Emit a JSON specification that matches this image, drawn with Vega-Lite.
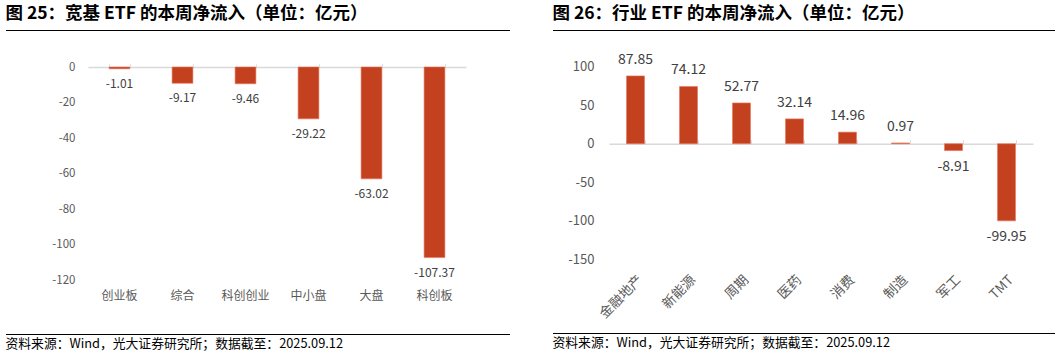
{
  "$schema": "https://vega.github.io/schema/vega-lite/v6.json",
  "padding": {"left": 5, "top": 5, "right": 0, "bottom": 0},
  "config": {
    "font": "Noto Sans CJK SC",
    "view": {"stroke": null},
    "locale": {"number": {"decimal": ".", "thousands": ",", "grouping": [3], "currency": ["", ""], "minus": "-"}}
  },
  "datasets": {
    "broad": [
      {"name": "创业板", "value": -1.01},
      {"name": "综合", "value": -9.17},
      {"name": "科创创业", "value": -9.46},
      {"name": "中小盘", "value": -29.22},
      {"name": "大盘", "value": -63.02},
      {"name": "科创板", "value": -107.37}
    ],
    "industry": [
      {"name": "金融地产", "value": 87.85},
      {"name": "新能源", "value": 74.12},
      {"name": "周期", "value": 52.77},
      {"name": "医药", "value": 32.14},
      {"name": "消费", "value": 14.96},
      {"name": "制造", "value": 0.97},
      {"name": "军工", "value": -8.91},
      {"name": "TMT", "value": -99.95}
    ],
    "one": [{"k": 1}]
  },
  "spacing": 42,
  "hconcat": [
    {
      "spacing": 30,
      "vconcat": [
        {
          "width": 504, "height": 1,
          "view": {"fill": "#000000", "stroke": null},
          "title": {"text": "图 25：宽基 ETF 的本周净流入（单位：亿元）", "anchor": "start", "fontSize": 17.5, "fontWeight": "bold", "color": "#000000", "offset": 7},
          "data": {"name": "one"},
          "mark": {"type": "rule", "opacity": 0},
          "encoding": {}
        },
        {
          "spacing": 32,
          "vconcat": [
            {
              "spacing": 0,
              "hconcat": [
                {
                  "width": 1, "height": 1,
                  "data": {"name": "one"},
                  "mark": {"type": "rule", "opacity": 0},
                  "encoding": {}
                },
                {
                  "width": 378, "height": 213,
                  "data": {"name": "broad"},
                  "layer": [
                    {
                      "mark": {"type": "bar", "color": "#C4411F", "stroke": "#E8765C", "strokeWidth": 0.6},
                      "encoding": {
                        "x": {"field": "name", "type": "nominal", "sort": null,
                          "scale": {"paddingInner": 0.67, "paddingOuter": 0.335},
                          "axis": {"orient": "bottom", "title": null, "domain": false, "ticks": false, "labelAngle": 0, "labelPadding": 10, "labelFontSize": 12, "labelColor": "#595959"}},
                        "y": {"field": "value", "type": "quantitative",
                          "scale": {"domain": [-120, 0], "nice": false},
                          "axis": {"title": null, "values": [-120, -100, -80, -60, -40, -20, 0], "labelOverlap": false, "domain": false, "ticks": false, "grid": false, "labelFontSize": 11.5, "labelColor": "#595959", "labelPadding": 13, "minExtent": 81}}
                      }
                    },
                    {
                      "mark": {"type": "text", "dy": 15, "baseline": "middle", "fontSize": 12, "color": "#404040"},
                      "encoding": {
                        "x": {"field": "name", "type": "nominal", "sort": null,
                          "axis": {"orient": "top", "title": null, "labels": false, "domainColor": "#D9D9D9", "domainWidth": 1.5, "tickColor": "#D9D9D9", "tickSize": 3, "tickBand": "extent"}},
                        "y": {"field": "value", "type": "quantitative",
                          "axis": {"title": null, "values": [-120, -100, -80, -60, -40, -20, 0], "labelOverlap": false, "domain": false, "ticks": false, "grid": false, "labelFontSize": 11.5, "labelColor": "#595959", "labelPadding": 13, "minExtent": 81}},
                        "text": {"field": "value", "type": "quantitative", "format": ".2f"}
                      }
                    }
                  ],
                  "resolve": {"axis": {"x": "independent"}}
                }
              ]
            },
            {
              "width": 504, "height": 1,
              "view": {"fill": "#000000", "stroke": null},
              "title": {"text": "资料来源：Wind，光大证券研究所；数据截至：2025.09.12", "orient": "bottom", "anchor": "start", "fontSize": 12.8, "fontWeight": "normal", "color": "#000000", "offset": 3},
              "data": {"name": "one"},
              "mark": {"type": "rule", "opacity": 0},
              "encoding": {}
            }
          ]
        }
      ]
    },
    {
      "spacing": 21.5,
      "vconcat": [
        {
          "width": 502, "height": 1,
          "view": {"fill": "#000000", "stroke": null},
          "title": {"text": "图 26：行业 ETF 的本周净流入（单位：亿元）", "anchor": "start", "fontSize": 17.5, "fontWeight": "bold", "color": "#000000", "offset": 7},
          "data": {"name": "one"},
          "mark": {"type": "rule", "opacity": 0},
          "encoding": {}
        },
        {
          "spacing": 11.5,
          "vconcat": [
            {
              "spacing": 0,
              "hconcat": [
                {
                  "width": 1, "height": 1,
                  "data": {"name": "one"},
                  "mark": {"type": "rule", "opacity": 0},
                  "encoding": {}
                },
                {
                  "width": 424, "height": 193,
                  "data": {"name": "industry"},
                  "layer": [
                    {
                      "mark": {"type": "bar", "color": "#C4411F", "stroke": "#E8765C", "strokeWidth": 0.6},
                      "encoding": {
                        "x": {"field": "name", "type": "nominal", "sort": null,
                          "scale": {"paddingInner": 0.66, "paddingOuter": 0.33},
                          "axis": {"orient": "bottom", "title": null, "domain": false, "ticks": false, "labelAngle": -45, "labelPadding": 13, "labelFontSize": 13.5, "labelColor": "#595959"}},
                        "y": {"field": "value", "type": "quantitative",
                          "scale": {"domain": [-150, 100], "nice": false},
                          "axis": {"title": null, "values": [-150, -100, -50, 0, 50, 100], "labelOverlap": false, "domain": false, "ticks": false, "grid": false, "labelFontSize": 13, "labelColor": "#595959", "labelPadding": 15, "minExtent": 55}}
                      }
                    },
                    {
                      "transform": [{"filter": "datum.value >= 0"}],
                      "mark": {"type": "text", "dy": -16, "baseline": "middle", "fontSize": 14, "color": "#404040"},
                      "encoding": {
                        "x": {"field": "name", "type": "nominal", "sort": null,
                          "axis": {"orient": "top", "offset": -77.2, "title": null, "labels": false, "domainColor": "#D9D9D9", "domainWidth": 1.5, "tickColor": "#D9D9D9", "tickSize": 4, "tickBand": "extent"}},
                        "y": {"field": "value", "type": "quantitative",
                          "axis": {"title": null, "values": [-150, -100, -50, 0, 50, 100], "labelOverlap": false, "domain": false, "ticks": false, "grid": false, "labelFontSize": 13, "labelColor": "#595959", "labelPadding": 15, "minExtent": 55}},
                        "text": {"field": "value", "type": "quantitative", "format": ".2f"}
                      }
                    },
                    {
                      "transform": [{"filter": "datum.value < 0"}],
                      "mark": {"type": "text", "dy": 16, "baseline": "middle", "fontSize": 14, "color": "#404040"},
                      "encoding": {
                        "x": {"field": "name", "type": "nominal", "sort": null, "axis": null},
                        "y": {"field": "value", "type": "quantitative",
                          "axis": {"title": null, "values": [-150, -100, -50, 0, 50, 100], "labelOverlap": false, "domain": false, "ticks": false, "grid": false, "labelFontSize": 13, "labelColor": "#595959", "labelPadding": 15, "minExtent": 55}},
                        "text": {"field": "value", "type": "quantitative", "format": ".2f"}
                      }
                    }
                  ],
                  "resolve": {"axis": {"x": "independent"}}
                }
              ]
            },
            {
              "width": 502, "height": 1,
              "view": {"fill": "#000000", "stroke": null},
              "title": {"text": "资料来源：Wind，光大证券研究所；数据截至：2025.09.12", "orient": "bottom", "anchor": "start", "fontSize": 12.8, "fontWeight": "normal", "color": "#000000", "offset": 3},
              "data": {"name": "one"},
              "mark": {"type": "rule", "opacity": 0},
              "encoding": {}
            }
          ]
        }
      ]
    }
  ]
}
